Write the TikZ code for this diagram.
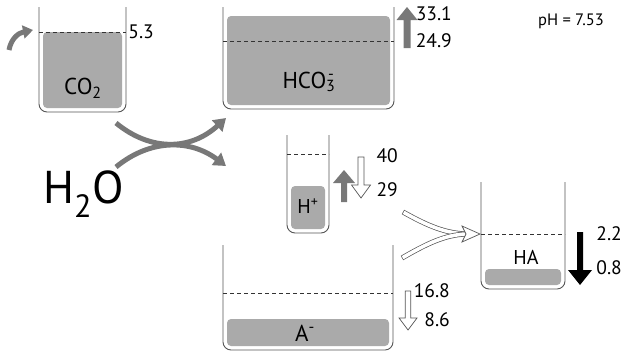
\documentclass[tikz,border=0pt]{standalone}
\usepackage{fontspec}
\setmainfont{PT Sans}
\usetikzlibrary{arrows.meta}
\definecolor{wall}{RGB}{85,85,85}
\definecolor{liquid}{RGB}{170,170,170}
\definecolor{arrowgray}{RGB}{120,120,120}
\tikzset{
  beaker/.style={draw=wall, line width=0.9pt, rounded corners=8pt},
  liquidfill/.style={fill=liquid, rounded corners=4pt},
  level/.style={draw=black!80, line width=0.7pt, dash pattern=on 4pt off 3pt},
  num/.style={font=\fontsize{19.5}{22}\selectfont, anchor=base east, inner sep=0pt},
  species/.style={font=\fontsize{23}{26}\selectfont, inner sep=0pt},
  grayarrow/.style={draw=arrowgray, line width=5pt, -{Triangle[length=12pt,width=15pt]}},
  solidarrow/.style={fill=arrowgray},
  hollow/.style={draw=wall, fill=white, line width=0.7pt, line join=miter},
}
\newcommand\Beaker[6]{% l r t b filltop level
  \fill[liquidfill] ({#1+4},#5) -- ({#1+4},{#4-4}) -- ({#2-4},{#4-4}) -- ({#2-4},#5) -- cycle;
  \draw[beaker] (#1,#3) -- (#1,#4) -- (#2,#4) -- (#2,#3);
  \draw[level] (#1,#6) -- (#2,#6);
}
% x, base y, tip y, shaft half, head half, signed head length (positive = arrow points up), style
\newcommand\ArrowPoly[7]{%
  \path[#7] ({#1-#4},#2) -- ({#1+#4},#2) -- ({#1+#4},{#3+#6}) -- ({#1+#5},{#3+#6}) -- (#1,#3) -- ({#1-#5},{#3+#6}) -- ({#1-#4},{#3+#6}) -- cycle;
}
\begin{document}
\begin{tikzpicture}[x=1pt,y=-1pt]
\useasboundingbox (0,0) rectangle (623,354);
% beakers
\Beaker{39}{126}{7}{112}{32}{32}
\Beaker{223}{394}{7}{109}{16}{41}
\Beaker{287}{329}{135}{233}{186}{154}
\Beaker{481}{565}{182}{289}{269}{234}
\Beaker{223}{393}{245}{350}{319}{293}
% species labels
\node[species] (co2) at (83,88) {CO\textsubscript{2}};
\node[species] (hco3) at (309,82) {HCO\textsubscript{3}\llap{\textsuperscript{-}\kern0.05em}};
\node[species, font=\fontsize{20}{22}\selectfont] (hplus) at (308,206) {H\textsuperscript{+}};
\node[species, font=\fontsize{20}{22}\selectfont] (ha) at (526,257) {HA};
\node[species] (aminus) at (305,333) {A\textsuperscript{-}};
\node[font=\fontsize{46}{50}\selectfont, anchor=base west, inner sep=0pt] (h2o) at (43,203) {H\textsubscript{2}O};
\node[font=\fontsize{16.5}{20}\selectfont, inner sep=0pt] (ph) at (571,21) {pH = 7.53};
% numbers
\node[num] (n1) at (154,38) {5.3};
\node[num] (n2) at (452,20) {33.1};
\node[num] (n3) at (452,47) {24.9};
\node[num] (n4) at (398,162) {40};
\node[num] (n5) at (398,196) {29};
\node[num] (n6) at (622,240) {2.2};
\node[num] (n7) at (622,274) {0.8};
\node[num] (n8) at (450,297) {16.8};
\node[num] (n9) at (450,326) {8.6};
% gray curved arrows
\draw[grayarrow, -{Triangle[length=10pt,width=13pt]}] (9,50) .. controls (11,39) and (18,33) .. (33,30);
\draw[grayarrow] (116,123) .. controls (150,151) and (190,151) .. (226,118);
\draw[grayarrow] (116,167) .. controls (150,139) and (190,139) .. (226,166);
% straight block arrows
\ArrowPoly{407}{48}{7}{3.5}{10.5}{13}{solidarrow}
\ArrowPoly{344}{202}{170}{3}{11}{13}{solidarrow}
\ArrowPoly{580}{232}{285}{3}{12}{-15}{fill=black}
\ArrowPoly{361}{157}{198}{3}{9.5}{-13}{hollow}
\ArrowPoly{408}{291}{330}{2.8}{9}{-12}{hollow}
% hollow merging arrows into HA
\draw[wall, line width=5pt] (403,212) .. controls (428,226) and (445,233) .. (466,234);
\draw[white, line width=3.6pt, shorten <=0.7pt] (403,212) .. controls (428,226) and (445,233) .. (466,234);
\draw[wall, line width=5pt] (402,258) .. controls (428,243) and (445,235) .. (466,234);
\draw[white, line width=3.6pt, shorten <=0.7pt] (402,258) .. controls (428,243) and (445,235) .. (466,234);
\path[hollow] (462,226) -- (480,234) -- (462,242) -- (466,234) -- cycle;
\end{tikzpicture}
\end{document}
